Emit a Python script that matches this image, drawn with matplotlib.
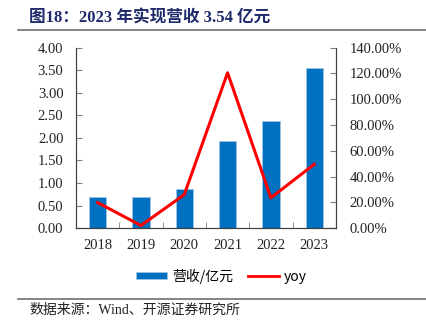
import numpy as np
import matplotlib
matplotlib.use("Agg")
import matplotlib.pyplot as plt
from matplotlib.lines import Line2D
from matplotlib.patches import Patch

years = ["2018", "2019", "2020", "2021", "2022", "2023"]
revenue = [0.68, 0.70, 0.87, 1.92, 2.37, 3.54]        # 营收/亿元
yoy = [19.8, 2.0, 26.0, 120.5, 23.5, 49.5]            # %

SERIF = ["Liberation Serif", "Noto Sans CJK SC"]
SANS = ["Noto Sans CJK SC", "DejaVu Sans"]
BLUE = "#0070C0"
RED = "#FF0000"

fig = plt.figure(figsize=(4.26, 3.24), dpi=100)
ax = fig.add_axes([0.1784, 0.296, 0.610, 0.557])
ax2 = ax.twinx()

x = np.arange(len(years))
ax.bar(x, revenue, width=0.4, color=BLUE, edgecolor="#9DC3E6", linewidth=0.6, zorder=2)
ax2.plot(x, yoy, color=RED, linewidth=2.2, zorder=3)

ax.set_xlim(-0.5, len(years) - 0.5)
ax.set_ylim(0, 4)
ax.set_yticks(np.arange(0, 4.01, 0.5))
ax.set_yticklabels([f"{v:.2f}" for v in np.arange(0, 4.01, 0.5)])
ax2.set_ylim(0, 140)
ax2.set_yticks(np.arange(0, 141, 20))
ax2.set_yticklabels([f"{v:.2f}%" for v in np.arange(0, 141, 20)])

# category labels, ticks on the boundaries
ax.set_xticks(x)
ax.set_xticklabels(years)
ax.tick_params(axis="x", length=0, pad=8)
ax.set_xticks(np.arange(0.5, len(years) - 0.5, 1), minor=True)
ax.tick_params(axis="x", which="minor", direction="in", length=4, color="#808080")

ax.tick_params(axis="y", direction="in", length=4, color="#808080", pad=9)
ax2.tick_params(axis="y", direction="in", length=4, color="#808080", pad=10)

for a in (ax, ax2):
    a.spines["top"].set_visible(False)
    for s in ("left", "right", "bottom"):
        a.spines[s].set_color("#404040")
        a.spines[s].set_linewidth(0.8)
    for lab in a.get_xticklabels() + a.get_yticklabels():
        lab.set_fontfamily(SERIF)
        lab.set_fontsize(10.5)
        lab.set_color("#222222")

# legend
handles = [Patch(facecolor=BLUE, edgecolor="#9DC3E6", linewidth=0.6),
           Line2D([0], [0], color=RED, linewidth=2)]
fig.legend(handles, ["营收/亿元", "yoy"], loc="center", bbox_to_anchor=(0.52, 1 - 276 / 324),
           ncol=2, frameon=False, prop={"family": SANS, "size": 10},
           handlelength=2.2, handleheight=0.45, columnspacing=1.1, handletextpad=0.35)

# header and footer
fig.text(29 / 426, 1 - 19 / 324, "图18：2023 年实现营收 3.54 亿元", family=SERIF,
         fontsize=12, fontweight="bold", color="#1F2A6B", va="center", ha="left")
fig.add_artist(Line2D([18 / 426, 1], [1 - 29.5 / 324] * 2, color="#707070", linewidth=1.2))
fig.add_artist(Line2D([18 / 426, 1], [1 - 299 / 324] * 2, color="#707070", linewidth=1.2))
fig.text(29 / 426, 1 - 310 / 324, "数据来源：Wind、开源证券研究所", family=SERIF,
         fontsize=10, color="#222222", va="center", ha="left")

fig.savefig("out.png", dpi=100)
